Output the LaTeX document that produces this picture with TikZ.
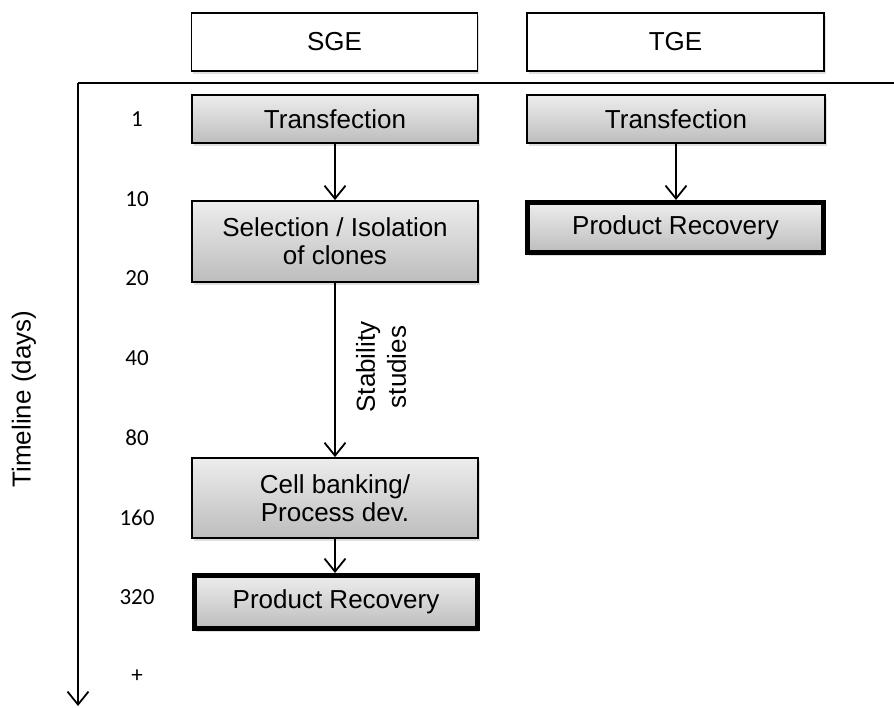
\documentclass[tikz,border=0pt]{standalone}
\usepackage{fontspec}
\setmainfont{Liberation Sans}
\newfontfamily\daysfont{Carlito}
\usetikzlibrary{arrows.meta,shadows}
\tikzset{
  hdr/.style={draw=black, line width=1.8pt, fill=white, rectangle, inner sep=0pt,
    drop shadow={opacity=0.25, shadow xshift=1.5pt, shadow yshift=-3pt},
    font=\fontsize{26}{28}\selectfont},
  stepbox/.style={draw=black, line width=1.8pt, rectangle, inner sep=0pt, align=center,
    top color=black!7, bottom color=black!26,
    drop shadow={opacity=0.25, shadow xshift=1.5pt, shadow yshift=-3pt},
    font=\fontsize{26}{28}\selectfont},
  finalbox/.style={stepbox, line width=5pt},
  flow/.style={line width=1.8pt, -{Straight Barb[length=13pt,width=21pt,line width=1.8pt]}},
  day/.style={font=\daysfont\fontsize{23}{25}\selectfont},
}
\begin{document}
\begin{tikzpicture}[x=1pt,y=-1pt]
\useasboundingbox (0,0) rectangle (894,707);
% headers
\node[hdr, minimum width=286pt, minimum height=58pt] (hSGE) at (334.5,42) {SGE};
\node[hdr, minimum width=297pt, minimum height=58pt] (hTGE) at (675.5,42) {TGE};
% axes
\coordinate (corner) at (78,83);
\coordinate (right) at (894,83);
\coordinate (axend) at (78,706);
\draw[line width=1.8pt] (right) -- (corner);
\draw[flow] (corner) -- (axend);
% day labels
\node[day] (d1) at (137,119) {1};
\node[day] (d10) at (137,199) {10};
\node[day] (d20) at (137,278) {20};
\node[day] (d40) at (137,358) {40};
\node[day] (d80) at (137,438) {80};
\node[day] (d160) at (137,518) {160};
\node[day] (d320) at (137,597) {320};
\node[day] (dplus) at (137,676) {+};
\node[rotate=90, font=\fontsize{26}{28}\selectfont] (tl) at (24,399) {Timeline (days)};
% SGE column
\node[stepbox, minimum width=286pt, minimum height=48pt] (t1) at (335,119) {Transfection};
\node[stepbox, minimum width=286pt, minimum height=81pt, font=\fontsize{26}{28}\selectfont] (sel) at (335,241.5) {Selection / Isolation\\of clones};
\node[stepbox, minimum width=286pt, minimum height=80pt, font=\fontsize{26}{28}\selectfont] (cell) at (335,498) {Cell banking/\\Process dev.};
\node[finalbox, minimum width=283pt, minimum height=53pt] (pr1) at (336,602) {Product Recovery};
% TGE column
\node[stepbox, minimum width=298pt, minimum height=48pt] (t2) at (676,119) {Transfection};
\node[finalbox, minimum width=296pt, minimum height=50pt] (pr2) at (675.5,227.5) {Product Recovery};
% arrows
\draw[flow] (t1.south) -- (sel.north);
\draw[flow] (sel.south) -- (cell.north);
\draw[flow] (cell.south) -- (cell.south |- pr1.north);
\draw[flow] (t2.south) -- (t2.south |- pr2.north);
\node[rotate=90, align=center, font=\fontsize{26}{31}\selectfont] (stab) at (381,367) {Stability\\studies};
\end{tikzpicture}
\end{document}
